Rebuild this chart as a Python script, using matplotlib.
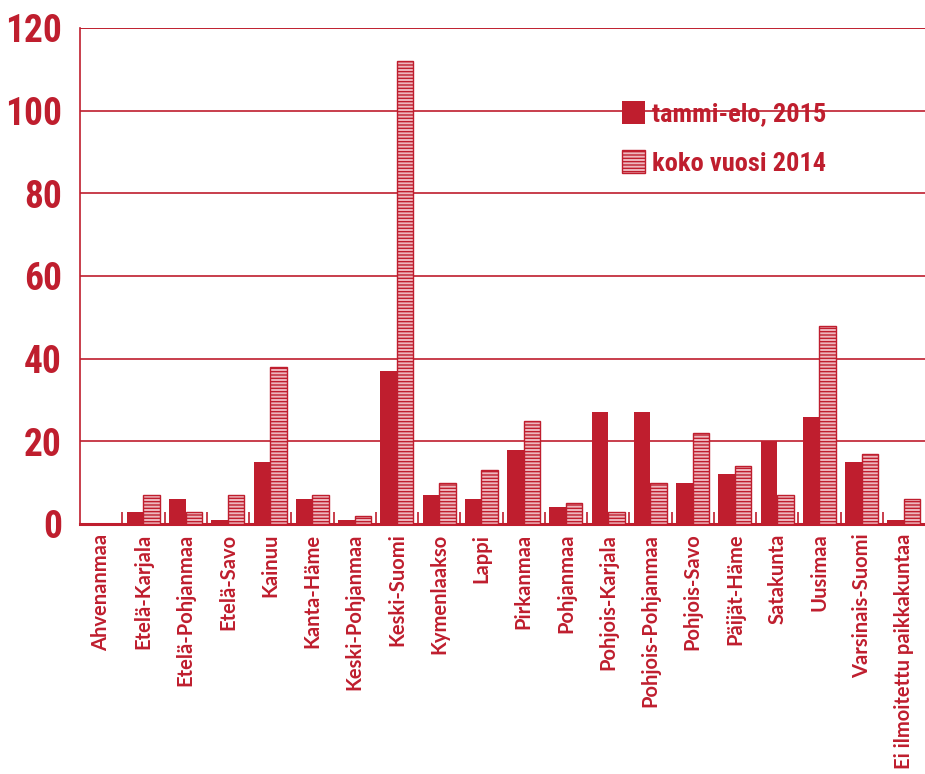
import numpy as np
import matplotlib as mpl
import matplotlib.pyplot as plt
from matplotlib.ticker import FixedLocator

RED = "#bf1e2e"
PINK = "#eeb6bd"
mpl.rcParams["font.family"] = ["Roboto Condensed", "Roboto", "DejaVu Sans"]
mpl.rcParams["hatch.color"] = RED
mpl.rcParams["hatch.linewidth"] = 1.0

regions = ["Ahvenanmaa", "Etelä-Karjala", "Etelä-Pohjanmaa", "Etelä-Savo", "Kainuu",
           "Kanta-Häme", "Keski-Pohjanmaa", "Keski-Suomi", "Kymenlaakso", "Lappi",
           "Pirkanmaa", "Pohjanmaa", "Pohjois-Karjala", "Pohjois-Pohjanmaa",
           "Pohjois-Savo", "Päijät-Häme", "Satakunta", "Uusimaa", "Varsinais-Suomi",
           "Ei ilmoitettu paikkakuntaa"]
tammi_elo_2015 = [0, 3, 6, 1, 15, 6, 1, 37, 7, 6, 18, 4, 27, 27, 10, 12, 20, 26, 15, 1]
koko_vuosi_2014 = [0, 7, 3, 7, 38, 7, 2, 112, 10, 13, 25, 5, 3, 10, 22, 14, 7, 48, 17, 6]

fig = plt.figure(figsize=(9.25, 7.74), dpi=100)
ax = fig.add_axes([0.0865, 0.323, 0.9135, 0.641])

x = np.arange(len(regions))
w = 0.39
ax.bar(x - w / 2, tammi_elo_2015, w, color=RED, label="tammi-elo, 2015", zorder=3)
ax.bar(x + w / 2, koko_vuosi_2014, w, facecolor=PINK, edgecolor=RED, linewidth=1.0,
       hatch="-----", label="koko vuosi 2014", zorder=3)

ax.set_xlim(-0.5, len(regions) - 0.5)
ax.set_ylim(0, 120)
ax.set_yticks(range(0, 121, 20))
ax.yaxis.grid(True, color=RED, linewidth=1.2, zorder=0)
ax.axhline(120, color=RED, linewidth=1.2, zorder=0)

ax.set_xticks(x)
ax.set_xticklabels(regions, rotation=90, fontsize=14.5, fontweight="bold", color=RED,
                   family=["Lato", "DejaVu Sans"])
ax.xaxis.set_minor_locator(FixedLocator(x[:-1] + 0.5))
ax.tick_params(axis="x", which="major", length=0, pad=7)
ax.tick_params(axis="x", which="minor", direction="in", length=9, width=1.2, color=RED)
ax.tick_params(axis="y", length=0, pad=13, labelsize=27, labelcolor=RED)
for lab in ax.get_yticklabels():
    lab.set_fontweight("bold")

for s in ["top", "right"]:
    ax.spines[s].set_visible(False)
ax.spines["left"].set_color(RED)
ax.spines["left"].set_linewidth(1.2)
ax.spines["bottom"].set_color(RED)
ax.spines["bottom"].set_linewidth(2.2)

leg = ax.legend(loc="upper left", bbox_to_anchor=(0.613, 0.9), frameon=False,
                prop={"size": 19, "weight": "bold"}, labelcolor=RED,
                handlelength=0.9, handleheight=0.95, handletextpad=0.25, labelspacing=0.9)

fig.savefig("out.png", dpi=100)
